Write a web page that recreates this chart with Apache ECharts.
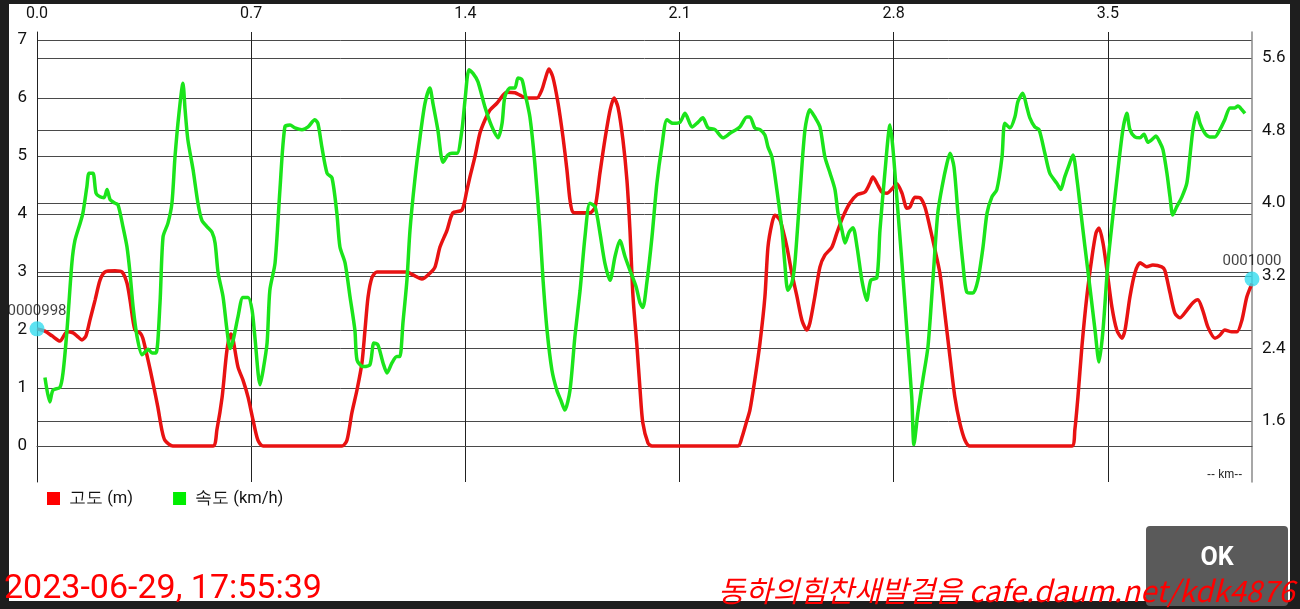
<!DOCTYPE html>
<html>
<head>
<meta charset="utf-8">
<script src="https://cdn.jsdelivr.net/npm/echarts@6/dist/echarts.min.js"></script>
<style>
html,body{margin:0;padding:0;width:1300px;height:609px;overflow:hidden;background:#1e1e1e;}
#frame{position:absolute;left:9px;top:4px;width:1281px;height:597px;background:#ffffff;}
#chart{position:absolute;left:0;top:0;width:1300px;height:609px;}
</style>
</head>
<body>
<div id="frame"></div>
<div id="chart"></div>
<script>
// ---- data ----
const seriesNames = ['고도 (m)', '속도 (km/h)'];
const xTickValues = [0, 0.7, 1.4, 2.1, 2.8, 3.5];
const leftTickValues = [0, 1, 2, 3, 4, 5, 6, 7];
const rightTickValues = [1.6, 2.4, 3.2, 4.0, 4.8, 5.6];

// altitude (m), left axis
const altKm = [0.000,0.026,0.049,0.075,0.098,0.118,0.134,0.147,0.160,0.173,0.190,0.206,0.222,0.255,0.278,0.294,0.304,0.320,0.337,0.346,0.363,0.379,0.395,0.408,0.418,0.444,
0.575,0.588,0.605,0.621,0.634,0.641,0.657,0.673,0.690,0.706,0.722,0.739,
0.997,1.013,1.029,1.046,1.062,1.072,1.082,1.095,1.111,1.209,1.229,1.258,1.284,1.301,1.317,1.340,1.359,1.389,1.405,1.415,1.431,1.448,1.464,1.480,1.503,1.523,1.536,1.562,1.578,1.601,1.634,1.650,1.660,1.673,1.686,1.703,1.719,1.732,1.742,1.752,1.775,1.807,1.824,1.840,1.856,1.873,1.886,1.899,1.915,1.928,1.938,1.948,1.961,1.971,1.980,1.997,2.010,
2.291,2.304,2.318,2.330,2.346,2.363,2.379,2.389,2.402,2.412,2.428,2.438,2.451,2.467,2.484,2.500,2.516,2.526,2.542,2.559,2.575,2.598,2.614,2.634,2.657,2.680,2.706,2.722,2.732,2.745,2.761,2.778,2.794,2.810,2.827,2.843,2.853,2.869,2.886,2.902,2.918,2.935,2.951,2.967,2.984,3.000,3.016,3.033,3.049,
3.382,3.392,3.402,3.415,3.431,3.448,3.461,3.471,3.484,3.497,3.513,3.529,3.546,3.556,3.572,3.588,3.605,3.627,3.647,3.676,3.686,3.703,3.719,3.735,3.758,3.778,3.794,3.810,3.827,3.850,3.866,3.882,3.905,3.922,3.938,3.954,3.971];
const altM = [2.02,1.98,1.90,1.81,1.97,1.95,1.88,1.83,1.90,2.17,2.52,2.86,3.00,3.02,3.00,2.81,2.52,2.00,1.95,1.86,1.48,1.09,0.67,0.28,0.10,0.00,
0.00,0.28,0.84,1.66,1.93,1.83,1.36,1.14,0.84,0.45,0.10,0.00,
0.00,0.10,0.57,0.97,1.43,2.00,2.57,2.91,3.00,3.00,2.95,2.88,2.98,3.09,3.43,3.72,4.02,4.07,4.41,4.64,4.98,5.40,5.62,5.79,5.91,6.05,6.10,6.09,6.05,6.00,6.00,6.14,6.31,6.50,6.36,5.91,5.33,4.76,4.24,4.03,4.02,4.02,4.12,4.71,5.28,5.79,6.00,5.84,5.28,4.59,3.72,2.57,1.71,0.97,0.40,0.05,0.00,
0.00,0.15,0.40,0.62,1.14,1.78,2.57,3.43,3.84,3.98,3.90,3.72,3.43,2.98,2.57,2.17,2.00,2.12,2.57,3.09,3.29,3.43,3.67,3.95,4.19,4.33,4.38,4.53,4.64,4.53,4.38,4.36,4.43,4.52,4.36,4.10,4.12,4.29,4.28,4.12,3.78,3.38,2.98,2.29,1.53,0.84,0.40,0.10,0.00,
0.00,0.28,0.84,1.71,2.57,3.26,3.67,3.76,3.50,3.03,2.40,2.00,1.86,2.00,2.57,2.98,3.16,3.09,3.12,3.09,3.03,2.64,2.29,2.21,2.34,2.47,2.52,2.34,2.05,1.86,1.91,2.00,1.97,1.97,2.17,2.57,2.80];

// speed (km/h), right axis
const spdKm = [0.026,0.042,0.052,0.075,0.085,0.098,0.114,0.124,0.141,0.150,0.163,0.170,0.183,0.193,0.206,0.219,0.229,0.239,0.255,0.265,0.281,0.294,0.304,0.314,0.327,0.343,0.353,0.363,0.376,0.389,0.402,0.412,0.428,0.441,0.451,0.464,0.477,0.484,0.493,0.510,0.526,0.539,0.556,0.572,0.582,0.592,0.608,0.621,0.631,0.641,0.657,0.673,0.690,0.703,0.712,0.729,0.739,0.752,0.761,0.778,0.794,0.810,0.827,0.843,0.866,0.886,0.908,0.918,0.931,0.948,0.964,0.980,0.990,1.007,1.023,1.039,1.046,1.065,1.088,1.101,1.114,1.131,1.144,1.160,1.176,1.186,1.196,1.209,1.219,1.235,1.252,1.268,1.284,1.294,1.310,1.327,1.343,1.356,1.373,1.389,1.399,1.412,1.425,1.441,1.464,1.487,1.507,1.520,1.529,1.546,1.562,1.572,1.585,1.595,1.611,1.627,1.644,1.654,1.667,1.683,1.699,1.712,1.725,1.742,1.758,1.775,1.791,1.807,1.824,1.840,1.856,1.873,1.889,1.905,1.922,1.938,1.958,1.971,1.980,1.993,2.010,2.026,2.042,2.059,2.078,2.101,2.118,2.141,2.160,2.176,2.193,2.216,2.242,2.265,2.297,2.320,2.330,2.346,2.363,2.379,2.389,2.402,2.418,2.435,2.444,2.454,2.467,2.477,2.493,2.510,2.526,2.542,2.559,2.575,2.592,2.608,2.618,2.631,2.641,2.654,2.667,2.680,2.696,2.712,2.725,2.745,2.755,2.771,2.788,2.797,2.810,2.827,2.843,2.859,2.866,2.879,2.895,2.912,2.928,2.944,2.958,2.974,2.984,2.997,3.010,3.026,3.039,3.059,3.075,3.092,3.105,3.121,3.137,3.154,3.163,3.180,3.196,3.206,3.222,3.235,3.245,3.261,3.275,3.294,3.310,3.333,3.346,3.359,3.373,3.386,3.399,3.412,3.425,3.441,3.458,3.471,3.484,3.500,3.516,3.533,3.549,3.562,3.572,3.588,3.605,3.618,3.631,3.644,3.657,3.670,3.680,3.693,3.703,3.712,3.725,3.742,3.758,3.768,3.778,3.791,3.801,3.817,3.833,3.850,3.866,3.882,3.899,3.915,3.925,3.938,3.948];
const spdKmh = [2.08,1.81,1.94,1.97,2.13,2.60,3.34,3.59,3.78,3.89,4.18,4.33,4.33,4.11,4.07,4.06,4.15,4.04,4.00,3.98,3.74,3.52,3.23,2.86,2.53,2.33,2.36,2.39,2.35,2.35,2.90,3.63,3.78,4.00,4.51,4.99,5.32,5.03,4.70,4.37,4.00,3.81,3.74,3.68,3.56,3.23,2.97,2.60,2.40,2.49,2.75,2.96,2.96,2.82,2.53,2.00,2.16,2.46,3.04,3.34,4.15,4.84,4.86,4.83,4.81,4.84,4.92,4.88,4.62,4.33,4.28,3.89,3.52,3.34,2.97,2.60,2.27,2.20,2.22,2.46,2.44,2.24,2.13,2.24,2.31,2.31,2.68,3.15,3.70,4.26,4.73,5.10,5.27,5.10,4.81,4.45,4.53,4.55,4.55,4.81,5.14,5.47,5.43,5.34,5.06,4.84,4.72,4.88,5.17,5.27,5.27,5.38,5.36,5.21,4.95,4.44,3.70,3.15,2.60,2.16,1.94,1.83,1.72,1.94,2.53,3.04,3.63,4.00,3.96,3.67,3.34,3.15,3.41,3.59,3.41,3.26,3.08,2.90,2.85,3.12,3.63,4.22,4.62,4.92,4.88,4.89,4.99,4.84,4.89,4.94,4.83,4.81,4.72,4.77,4.84,4.95,4.95,4.83,4.81,4.75,4.62,4.51,4.15,3.70,3.34,3.04,3.12,3.34,4.07,4.81,5.03,4.95,4.84,4.51,4.33,4.15,3.89,3.70,3.56,3.68,3.73,3.52,3.15,2.93,3.15,3.18,3.70,4.33,4.86,4.62,4.07,3.34,2.60,1.86,1.34,1.69,2.05,2.42,3.15,3.89,4.18,4.44,4.55,4.40,3.89,3.34,3.02,3.01,3.15,3.52,3.89,4.07,4.15,4.51,4.88,4.83,4.95,5.12,5.21,5.06,4.94,4.84,4.81,4.55,4.33,4.22,4.15,4.29,4.42,4.53,4.26,3.89,3.52,3.08,2.60,2.25,2.60,3.34,3.85,4.37,4.81,4.99,4.81,4.73,4.72,4.76,4.67,4.70,4.74,4.67,4.59,4.33,4.07,3.87,3.96,4.07,4.22,4.51,4.81,5.00,4.88,4.77,4.73,4.73,4.81,4.92,5.05,5.05,5.07,5.03,4.99];

// start / end markers (on altitude axis)
const markerKm = [0.000, 3.971];
const markerM = [2.02, 2.88];
const markerLabels = ['0000998', '0001000'];

const xRange = [0, 3.971];
const leftRange = [-0.62, 7.138];
const rightRange = [0.928, 5.886];

const footerDate = '2023-06-29, 17:55:39';
const footerSign = '동하의힘찬새발걸음 cafe.daum.net/kdk4876';

// ---- chart ----
const chart = echarts.init(document.getElementById('chart'), null, {renderer: 'canvas'});
const altData = altKm.map((k, i) => [k, altM[i]]);
const spdData = spdKm.map((k, i) => [k, spdKmh[i]]);
const markerData = markerKm.map((k, i) => ({value: [k, markerM[i]], label: {formatter: markerLabels[i]}}));

const gridCol = '#4a4a4a';
const font = 'Roboto, "Noto Sans", sans-serif';

chart.setOption({
  animation: false,
  backgroundColor: 'transparent',
  textStyle: {fontFamily: font},
  grid: {left: 37, right: 48, top: 32, bottom: 127, containLabel: false},
  legend: {
    data: seriesNames,
    left: 47, top: 490, padding: 0,
    icon: 'rect', itemWidth: 13, itemHeight: 13, itemGap: 40,
    formatter: n => ' ' + n,
    textStyle: {fontSize: 16.5, color: '#111', fontFamily: font}
  },
  xAxis: {
    type: 'value', position: 'top', min: xRange[0], max: xRange[1],
    axisLine: {show: true, lineStyle: {color: gridCol, width: 1}},
    axisTick: {show: false, customValues: xTickValues},
    axisLabel: {customValues: xTickValues, formatter: v => v.toFixed(1), fontSize: 16, color: '#111', margin: 10},
    splitLine: {show: true, lineStyle: {color: '#222', width: 1}}
  },
  yAxis: [
    {
      type: 'value', position: 'left', min: leftRange[0], max: leftRange[1],
      axisLine: {show: true, lineStyle: {color: '#222', width: 1}},
      axisTick: {show: false, customValues: leftTickValues},
      axisLabel: {customValues: leftTickValues, fontSize: 17, color: '#111', margin: 10},
      splitLine: {show: true, lineStyle: {color: gridCol, width: 1}}
    },
    {
      type: 'value', position: 'right', min: rightRange[0], max: rightRange[1],
      axisLine: {show: true, lineStyle: {color: '#8a8a8a', width: 1.5}},
      axisTick: {show: false, customValues: rightTickValues},
      axisLabel: {customValues: rightTickValues, formatter: v => v.toFixed(1), fontSize: 17, color: '#111', margin: 10},
      splitLine: {show: true, lineStyle: {color: gridCol, width: 1}}
    }
  ],
  series: [
    {
      name: seriesNames[0], type: 'line', yAxisIndex: 0, data: altData,
      showSymbol: false, smooth: 0.25, color: '#ff0000',
      lineStyle: {width: 3.5, color: '#e81212'}, z: 3
    },
    {
      name: seriesNames[1], type: 'line', yAxisIndex: 1, data: spdData,
      showSymbol: false, smooth: 0.25, color: '#00ee00',
      lineStyle: {width: 3.5, color: '#1be41b'}, z: 4
    },
    {
      type: 'scatter', yAxisIndex: 0, data: markerData, clip: false,
      symbolSize: 15, itemStyle: {color: '#35dcef'}, z: 5,
      label: {show: true, position: 'top', distance: 3, fontSize: 15, color: '#111'}
    }
  ],
  graphic: [
    {type: 'text', left: 1207, top: 469, style: {text: '-- km--', fontSize: 12, fill: '#222', font: '12px ' + font}},
    {type: 'rect', shape: {x: 1146, y: 526, width: 142, height: 80, r: 4}, style: {fill: '#5a5a5a'}, z: 10},
    {type: 'text', x: 1217, y: 559, style: {text: 'OK', fill: '#ffffff', font: 'bold 25px ' + font, align: 'center', verticalAlign: 'middle'}, z: 11},
    {type: 'text', x: 4, y: 606, style: {text: footerDate, fill: '#ff0000', font: '34px ' + font, verticalAlign: 'bottom'}, z: 12},
    {type: 'text', x: 718, y: 606, style: {text: footerSign, fill: '#ff0000', font: 'italic 29.5px "Noto Sans CJK KR", sans-serif', verticalAlign: 'bottom'}, z: 12}
  ]
});
</script>
</body>
</html>
